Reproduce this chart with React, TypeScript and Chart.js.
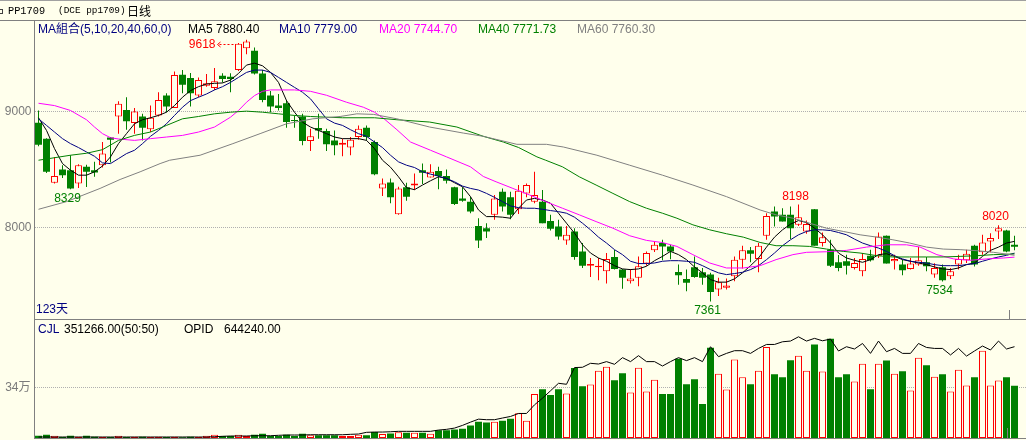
import React, { useEffect, useRef } from "react";
import { Chart, registerables } from "chart.js";

Chart.register(...registerables);

// ---------- data ----------
const opens = [8902, 8766, 8386, 8500, 8494, 8380, 8523, 8494, 8537, 8775, 8957, 9014, 8900, 8957, 8846, 8966, 9137, 9031, 9317, 9289, 9137, 9223, 9203, 9309, 9300, 9357, 9546, 9523, 9328, 9137, 9051, 9071, 8925, 8957, 8746, 8857, 8831, 8751, 8714, 8689, 8780, 8860, 8737, 8337, 8389, 8114, 8346, 8363, 8494, 8431, 8486, 8443, 8346, 8251, 8223, 8014, 7994, 8109, 8309, 8260, 8157, 8294, 8223, 8223, 8057, 8009, 7889, 7966, 7794, 7671, 7657, 7623, 7746, 7637, 7537, 7566, 7689, 7803, 7866, 7837, 7617, 7557, 7657, 7614, 7594, 7466, 7480, 7580, 7723, 7803, 7729, 7929, 8137, 8109, 8109, 8023, 7966, 8157, 7866, 7809, 7700, 7709, 7651, 7623, 7757, 7757, 7929, 7709, 7680, 7643, 7680, 7700, 7594, 7657, 7580, 7680, 7717, 7843, 7786, 7880, 7966, 7974, 7851];
const highs = [9009, 8770, 8608, 8537, 8623, 8545, 8540, 8566, 8737, 8780, 9088, 9123, 9031, 8980, 9051, 9166, 9157, 9345, 9357, 9331, 9294, 9323, 9374, 9329, 9329, 9590, 9618, 9551, 9357, 9177, 9151, 9100, 8966, 8980, 8851, 8980, 8851, 8837, 8766, 8780, 8880, 8880, 8750, 8423, 8423, 8351, 8386, 8466, 8551, 8546, 8523, 8500, 8351, 8346, 8266, 8080, 8037, 8280, 8337, 8309, 8366, 8380, 8480, 8323, 8109, 8066, 8014, 7994, 7866, 7737, 7737, 7780, 7806, 7643, 7643, 7751, 7794, 7880, 7894, 7851, 7680, 7637, 7751, 7651, 7609, 7566, 7560, 7751, 7843, 7831, 7866, 8123, 8180, 8166, 8180, 8198, 8060, 8160, 7957, 7894, 7763, 7766, 7737, 7780, 7809, 7957, 7932, 7766, 7723, 7737, 7831, 7746, 7691, 7680, 7651, 7766, 7809, 7851, 7937, 7951, 8020, 7980, 7929];
const lows = [8700, 8470, 8380, 8426, 8329, 8340, 8350, 8437, 8517, 8560, 8809, 8843, 8809, 8751, 8823, 8957, 8994, 9030, 9157, 9043, 9123, 9214, 9186, 9251, 9166, 9350, 9494, 9320, 9080, 8994, 9009, 8860, 8860, 8709, 8660, 8766, 8660, 8623, 8614, 8623, 8757, 8751, 8450, 8271, 8209, 8110, 8231, 8323, 8374, 8431, 8329, 8380, 8194, 8223, 8123, 7823, 7909, 8066, 8137, 8071, 8117, 8260, 8209, 8037, 7974, 7894, 7851, 7723, 7651, 7574, 7546, 7517, 7637, 7471, 7517, 7494, 7671, 7789, 7717, 7726, 7506, 7451, 7566, 7506, 7361, 7409, 7466, 7537, 7646, 7700, 7614, 7894, 8009, 8051, 7900, 8014, 7946, 7843, 7837, 7660, 7623, 7594, 7637, 7580, 7706, 7737, 7689, 7637, 7589, 7637, 7671, 7623, 7566, 7534, 7557, 7637, 7694, 7663, 7766, 7786, 7900, 7786, 7803];
const closes = [8713, 8480, 8443, 8451, 8337, 8537, 8480, 8475, 8637, 8757, 9066, 8917, 9000, 8860, 8946, 9100, 9043, 9314, 9231, 9157, 9271, 9243, 9260, 9280, 9280, 9585, 9603, 9328, 9100, 9043, 9031, 8909, 8918, 8746, 8786, 8837, 8717, 8709, 8731, 8757, 8851, 8780, 8460, 8380, 8260, 8337, 8266, 8380, 8471, 8480, 8443, 8403, 8203, 8231, 8137, 7889, 7966, 8251, 8180, 8109, 8317, 8366, 8280, 8037, 7989, 7923, 7937, 7746, 7671, 7686, 7671, 7729, 7643, 7566, 7560, 7666, 7780, 7851, 7837, 7794, 7589, 7523, 7574, 7566, 7443, 7529, 7500, 7723, 7803, 7774, 7843, 8100, 8094, 8051, 7994, 8089, 8031, 7843, 7917, 7671, 7651, 7671, 7694, 7729, 7717, 7923, 7689, 7729, 7631, 7689, 7717, 7666, 7651, 7546, 7623, 7729, 7774, 7680, 7871, 7909, 7994, 7794, 7834];

const ma5 = [8946, 8837, 8680, 8551, 8494, 8451, 8451, 8480, 8530, 8609, 8723, 8809, 8894, 8929, 8946, 8966, 8994, 9051, 9123, 9180, 9214, 9237, 9243, 9246, 9271, 9328, 9400, 9417, 9394, 9337, 9251, 9094, 8994, 8908, 8866, 8837, 8809, 8780, 8766, 8766, 8766, 8751, 8680, 8580, 8520, 8437, 8343, 8326, 8366, 8403, 8437, 8423, 8386, 8351, 8266, 8151, 8094, 8094, 8089, 8080, 8166, 8237, 8251, 8237, 8209, 8123, 8037, 7951, 7851, 7780, 7737, 7709, 7671, 7643, 7637, 7643, 7666, 7714, 7751, 7794, 7766, 7723, 7660, 7609, 7551, 7529, 7529, 7557, 7609, 7671, 7737, 7831, 7917, 7980, 8029, 8060, 8043, 7994, 7937, 7866, 7780, 7737, 7717, 7700, 7723, 7766, 7774, 7751, 7723, 7709, 7694, 7680, 7660, 7643, 7637, 7651, 7680, 7694, 7751, 7803, 7831, 7866, 7880.4];
const ma10 = [8937, 8880, 8823, 8766, 8723, 8689, 8651, 8614, 8557, 8551, 8594, 8637, 8666, 8723, 8786, 8837, 8894, 8966, 9037, 9094, 9123, 9151, 9186, 9214, 9251, 9294, 9337, 9357, 9357, 9337, 9294, 9251, 9208, 9166, 9109, 9023, 8937, 8900, 8880, 8843, 8809, 8786, 8737, 8689, 8623, 8566, 8537, 8517, 8480, 8460, 8443, 8423, 8394, 8357, 8337, 8323, 8294, 8260, 8223, 8186, 8171, 8166, 8166, 8157, 8146, 8137, 8123, 8089, 8037, 7980, 7917, 7866, 7809, 7766, 7709, 7689, 7689, 7694, 7709, 7714, 7714, 7709, 7700, 7671, 7637, 7609, 7594, 7603, 7614, 7637, 7671, 7723, 7780, 7843, 7894, 7937, 7966, 7980, 7980, 7974, 7957, 7937, 7900, 7866, 7843, 7823, 7794, 7757, 7729, 7709, 7700, 7694, 7680, 7671, 7671, 7671, 7680, 7689, 7709, 7729, 7746, 7760, 7779];

const ma20X = [0, 2, 4, 6, 7, 8, 9, 10, 12, 14, 16, 18, 20, 22, 24, 25, 26, 27, 28, 29, 32, 34, 36, 38.5, 40.6, 42, 43.2, 44.8, 46.5, 49, 51, 54, 55.6, 57.2, 59.3, 61.4, 63.4, 65.5, 67.6, 69.7, 71.8, 73.9, 76, 78, 79.8, 81.8, 83.9, 86, 88.1, 90.2, 92.2, 94.3, 96, 98.5, 101, 103.5, 106, 108.5, 110.2, 112.3, 114.4, 116.4, 118.5, 120.6, 122];
const ma20Y = [9071, 9051, 9009, 8929, 8866, 8809, 8774, 8763, 8751, 8766, 8780, 8794, 8823, 8866, 8951, 9009, 9080, 9137, 9174, 9186, 9186, 9174, 9140, 9080, 9037, 8994, 8937, 8843, 8737, 8666, 8609, 8523, 8440, 8394, 8337, 8280, 8223, 8166, 8109, 8051, 7994, 7929, 7889, 7870, 7837, 7766, 7694, 7651, 7651, 7671, 7723, 7766, 7786, 7791, 7803, 7831, 7851, 7851, 7831, 7766, 7729, 7717, 7729, 7737, 7744.7];
const ma40X = [0, 4, 6, 8, 10, 12, 14, 16, 18, 20, 22, 24, 26, 28, 30, 32, 34, 36, 38, 42, 44.8, 48.9, 52.3, 55.6, 58.1, 60, 62.3, 63.4, 65.5, 67.6, 69.7, 71.8, 73.9, 76, 78, 79.8, 81.8, 83.9, 86, 88.1, 90.2, 92.2, 94.3, 96.4, 98.5, 100.6, 102.7, 104.8, 106.8, 108.9, 111, 113.1, 115.2, 117.3, 119.4, 122];
const ma40Y = [8580, 8623, 8640, 8671, 8751, 8794, 8823, 8880, 8937, 8957, 8980, 8994, 9003, 8994, 8980, 8966, 8957, 8951, 8946, 8946, 8929, 8909, 8866, 8786, 8737, 8690, 8609, 8580, 8523, 8437, 8366, 8294, 8223, 8166, 8123, 8080, 8023, 7980, 7946, 7917, 7871, 7843, 7843, 7837, 7814, 7794, 7780, 7757, 7746, 7746, 7746, 7746, 7751, 7757, 7766, 7771.73];
const ma60X = [0, 3.5, 7.7, 10.2, 12.7, 15.2, 16.4, 20.2, 24.3, 27.7, 31, 34.3, 37.7, 39.8, 41.9, 44.8, 48.9, 53.1, 55.6, 59.8, 63.5, 65.6, 69.8, 73.9, 78, 81.8, 86, 90.2, 92.2, 94.3, 96.4, 98.5, 100.6, 102.7, 104.8, 106.8, 108.9, 111, 113.1, 115.2, 117.3, 119.4, 122];
const ma60Y = [8157, 8223, 8337, 8414, 8480, 8551, 8580, 8623, 8723, 8809, 8894, 8937, 8957, 8980, 8975, 8937, 8866, 8814, 8786, 8717, 8717, 8694, 8623, 8537, 8451, 8366, 8266, 8151, 8109, 8080, 8037, 7994, 7966, 7937, 7917, 7894, 7866, 7831, 7814, 7809, 7800, 7786, 7760.3];

const volumes = [15000, 22000, 15000, 7000, 15000, 9000, 15000, 9000, 7000, 7000, 15000, 7000, 9000, 9000, 7000, 9000, 7000, 9000, 5000, 9000, 7000, 15000, 22000, 13000, 13000, 22000, 13000, 22000, 29000, 13000, 13000, 22000, 13000, 29000, 18000, 18000, 18000, 18000, 13000, 13000, 22000, 18000, 40000, 27000, 31000, 38000, 35000, 35000, 35000, 29000, 53000, 53000, 58000, 62000, 84000, 109000, 104000, 109000, 116000, 129000, 167000, 116000, 296000, 329000, 289000, 329000, 300000, 471000, 349000, 360000, 453000, 480000, 389000, 436000, 307000, 473000, 313000, 393000, 296000, 296000, 533000, 362000, 396000, 229000, 607000, 433000, 327000, 529000, 409000, 362000, 453000, 613000, 429000, 409000, 524000, 553000, 453000, 629000, 447000, 669000, 409000, 429000, 380000, 500000, 329000, 500000, 522000, 433000, 449000, 320000, 540000, 489000, 413000, 429000, 313000, 460000, 353000, 409000, 587000, 353000, 387000, 409000, 351266];
const openInterest = [7000, 7000, 7000, 7000, 7000, 7000, 7000, 7000, 7000, 7000, 7000, 7000, 7000, 7000, 7000, 7000, 7000, 7000, 7000, 7000, 7000, 7000, 9000, 12000, 14000, 14000, 14000, 16000, 16000, 16000, 19000, 21000, 21000, 21000, 23000, 23000, 23000, 23000, 23000, 26000, 28000, 40000, 42000, 42000, 44000, 47000, 47000, 47000, 47000, 47000, 56000, 61000, 70000, 89000, 112000, 133000, 129000, 129000, 141000, 152000, 173000, 173000, 234000, 281000, 333000, 386000, 379000, 497000, 499000, 527000, 522000, 539000, 520000, 567000, 539000, 581000, 539000, 539000, 508000, 539000, 567000, 546000, 567000, 539000, 644000, 574000, 597000, 616000, 616000, 597000, 632000, 660000, 660000, 679000, 684000, 714000, 684000, 703000, 686000, 698000, 614000, 644000, 628000, 667000, 597000, 684000, 609000, 632000, 597000, 597000, 667000, 639000, 632000, 632000, 586000, 632000, 578000, 614000, 649000, 621000, 684000, 628000, 644240];

const priceTicks = [9000, 8000];
const volumeTicks = [340000];
const peakIndex = 26;
const highMarks = [95, 120];
const lowMarks = [4, 84, 113];

// ---------- style ----------
const BG = "#FFFFEC";
const RED = "#FF0000";
const GREEN = "#008000";
const NAVY = "#000080";
const GRAY = "#808080";
const FONT = '"Liberation Sans", Arial, "Noto Sans CJK SC", sans-serif';
const MONO = '"Liberation Mono", "DejaVu Sans Mono", monospace';

// price axis range: 116 px per 1000, 9000 at row 111 of the page, plot 299 px tall
const PRICE_MAX = 9000 + 91.5 / 0.116;
const PRICE_MIN = PRICE_MAX - 299 / 0.116;

const N = closes.length;
const isUp = (i: number) => closes[i] >= opens[i];
const X_MIN = -0.5;
const X_MAX = -0.5 + (1026 - 34.5) / 8;

const xScale: any = { type: "linear", min: X_MIN, max: X_MAX, display: false, offset: false };

const fitAxis = (scale: any) => {
  scale.width = 34.5;
  scale.paddingTop = 0;
  scale.paddingBottom = 0;
  scale.paddingLeft = 0;
  scale.paddingRight = 0;
};

const extremaPlugin = {
  id: "extrema",
  afterDatasetsDraw(chart: any) {
    const { ctx } = chart;
    const xs = chart.scales.x;
    const ys = chart.scales.y;
    ctx.save();
    ctx.font = "12px " + FONT;
    ctx.textBaseline = "middle";
    const px = xs.getPixelForValue(peakIndex);
    const py = Math.round(ys.getPixelForValue(highs[peakIndex])) + 4.5;
    ctx.fillStyle = RED;
    ctx.strokeStyle = RED;
    ctx.lineWidth = 1;
    ctx.textAlign = "right";
    ctx.fillText(String(highs[peakIndex]), px - 31, py);
    ctx.setLineDash([2, 2]);
    ctx.beginPath();
    ctx.moveTo(px - 27, py);
    ctx.lineTo(px - 11, py);
    ctx.stroke();
    ctx.setLineDash([]);
    ctx.beginPath();
    ctx.moveTo(px - 26, py - 2.5);
    ctx.lineTo(px - 29, py);
    ctx.lineTo(px - 26, py + 2.5);
    ctx.stroke();
    ctx.textAlign = "center";
    for (const i of highMarks) {
      const x = xs.getPixelForValue(i) - 3;
      const y = ys.getPixelForValue(highs[i]) - 8;
      ctx.fillStyle = RED;
      ctx.fillText(String(highs[i]), x, y);
    }
    for (const i of lowMarks) {
      const x = xs.getPixelForValue(i) - 3;
      const y = ys.getPixelForValue(lows[i]) + 9;
      ctx.fillStyle = GREEN;
      ctx.fillText(String(lows[i]), x, y);
    }
    ctx.restore();
  },
};

function lineDs(points: { x: number; y: number }[], color: string) {
  return {
    type: "line",
    data: points,
    borderColor: color,
    borderWidth: 1,
    pointRadius: 0,
    tension: 0,
    fill: false,
    order: 1,
  };
}

const pairs = (xs: number[], ys: number[]) => xs.map((x, k) => ({ x, y: ys[k] }));

export default function App() {
  const priceRef = useRef<HTMLCanvasElement>(null);
  const volRef = useRef<HTMLCanvasElement>(null);

  useEffect(() => {
    document.body.style.margin = "0";
    const idx = closes.map((_, i) => i);

    const priceChart = new Chart(priceRef.current as HTMLCanvasElement, {
      type: "bar",
      data: {
        datasets: [
          {
            type: "bar",
            data: idx.map((i) => ({ x: i, y: [lows[i], highs[i]] })),
            backgroundColor: idx.map((i) => (isUp(i) ? RED : GREEN)),
            barThickness: 1,
            grouped: false,
            inflateAmount: 0,
            borderWidth: 0,
            order: 3,
          },
          {
            type: "bar",
            data: idx.map((i) => ({ x: i, y: [opens[i], closes[i]] })),
            backgroundColor: idx.map((i) => (isUp(i) ? BG : GREEN)),
            borderColor: idx.map((i) => (isUp(i) ? RED : GREEN)),
            borderWidth: idx.map((i) => (isUp(i) ? 1 : 0)),
            borderSkipped: false,
            barThickness: 7,
            minBarLength: 1,
            grouped: false,
            inflateAmount: 0,
            order: 2,
          },
          lineDs(pairs(ma60X, ma60Y), GRAY),
          lineDs(pairs(ma40X, ma40Y), GREEN),
          lineDs(pairs(ma20X, ma20Y), "#FF00FF"),
          lineDs(idx.map((i) => ({ x: i, y: ma10[i] })), NAVY),
          lineDs(idx.map((i) => ({ x: i, y: ma5[i] })), "#000000"),
        ] as any,
      },
      options: {
        animation: false,
        responsive: false,
        devicePixelRatio: 1,
        events: [],
        layout: { padding: 0 },
        plugins: { legend: { display: false }, tooltip: { enabled: false } },
        scales: {
          x: xScale,
          y: {
            type: "linear",
            position: "left",
            min: PRICE_MIN,
            max: PRICE_MAX,
            afterBuildTicks: (s: any) => {
              s.ticks = priceTicks.map((v) => ({ value: v }));
            },
            afterFit: fitAxis,
            ticks: {
              color: "#7A7A7A",
              padding: 3,
              font: { family: FONT, size: 12 },
              callback: (v: any) => String(v),
            },
            grid: { color: "#B0B0B0", drawTicks: false, lineWidth: 1 },
            border: { display: false, dash: [1, 1] },
          },
        } as any,
      } as any,
      plugins: [extremaPlugin],
    });

    const volChart = new Chart(volRef.current as HTMLCanvasElement, {
      type: "bar",
      data: {
        datasets: [
          {
            type: "bar",
            data: idx.map((i) => ({ x: i, y: volumes[i] })),
            backgroundColor: idx.map((i) => (isUp(i) ? BG : GREEN)),
            borderColor: idx.map((i) => (isUp(i) ? RED : GREEN)),
            borderWidth: idx.map((i) => (isUp(i) ? 1 : 0)),
            borderSkipped: false,
            barThickness: 7,
            grouped: false,
            inflateAmount: 0,
            yAxisID: "y",
            order: 2,
          },
          {
            type: "line",
            data: idx.map((i) => ({ x: i, y: openInterest[i] })),
            borderColor: "#000000",
            borderWidth: 1,
            pointRadius: 0,
            tension: 0,
            yAxisID: "y2",
            order: 1,
          },
        ] as any,
      },
      options: {
        animation: false,
        responsive: false,
        devicePixelRatio: 1,
        events: [],
        layout: { padding: { top: 0, bottom: 2, left: 0, right: 0 } },
        plugins: { legend: { display: false }, tooltip: { enabled: false } },
        scales: {
          x: xScale,
          y: {
            type: "linear",
            position: "left",
            min: 0,
            max: 794450,
            afterBuildTicks: (s: any) => {
              s.ticks = volumeTicks.map((v) => ({ value: v }));
            },
            afterFit: fitAxis,
            ticks: {
              color: "#7A7A7A",
              padding: 4,
              font: { family: FONT, size: 12 },
              callback: (v: any) => Math.round(v / 10000) + "万",
            },
            grid: { color: "#B0B0B0", drawTicks: false, lineWidth: 1 },
            border: { display: false, dash: [1, 1] },
          },
          y2: { type: "linear", display: false, min: 0, max: 832600 },
        } as any,
      } as any,
    });

    return () => {
      priceChart.destroy();
      volChart.destroy();
    };
  }, []);

  const txt = (left: number, centerY: number, color: string, s: string, extra: any = {}) => (
    <div
      style={{
        position: "absolute",
        left,
        top: centerY - 7,
        lineHeight: "14px",
        height: 14,
        color,
        fontFamily: FONT,
        fontSize: 12,
        whiteSpace: "pre",
        ...extra,
      }}
    >
      {s}
    </div>
  );
  const line = (left: number, top: number, width: number, height: number, color = GRAY) => (
    <div style={{ position: "absolute", left, top, width, height, background: color }} />
  );
  const last = (a: number[]) => a[a.length - 1];

  return (
    <div
      style={{
        position: "absolute",
        left: 0,
        top: 0,
        width: 1026,
        height: 440,
        background: BG,
        overflow: "hidden",
      }}
    >
      <canvas
        ref={priceRef}
        width={1026}
        height={299}
        style={{ position: "absolute", left: 0, top: 20, width: 1026, height: 299 }}
      />
      <canvas
        ref={volRef}
        width={1026}
        height={120}
        style={{ position: "absolute", left: 0, top: 320, width: 1026, height: 120 }}
      />
      {line(0, 0, 1026, 1, "#A0A0A0")}
      {line(0, 20, 1026, 1)}
      {line(34, 20, 1, 419)}
      {line(34, 319, 992, 1)}
      {line(34, 438, 992, 1)}
      {line(1009, 310, 1, 9)}
      {line(1007, 428, 1, 10)}
      <div
        style={{
          position: "absolute",
          left: -2,
          top: 9,
          width: 3,
          height: 3,
          border: "1px solid #404040",
        }}
      />
      {txt(8, 11, "#000000", "PP1709", { fontFamily: MONO, fontSize: 10.3 })}
      {txt(58, 11, "#000000", "(DCE pp1709)", { fontFamily: MONO, fontSize: 9.4 })}
      {txt(127, 11, "#000000", "日线", { fontFamily: '"Noto Sans CJK SC", sans-serif', fontSize: 12 })}
      {txt(38, 29, NAVY, "MA組合(5,10,20,40,60,0)")}
      {txt(188, 29, "#000000", "MA5 " + last(ma5).toFixed(2))}
      {txt(279, 29, NAVY, "MA10 " + last(ma10).toFixed(2))}
      {txt(379, 29, "#FF00FF", "MA20 " + last(ma20Y).toFixed(2))}
      {txt(478, 29, GREEN, "MA40 " + last(ma40Y).toFixed(2))}
      {txt(577, 29, GRAY, "MA60 " + last(ma60Y).toFixed(2))}
      {txt(36, 309, NAVY, N + "天")}
      {txt(38, 329, NAVY, "CJL")}
      {txt(64, 329, "#000000", last(volumes).toFixed(2) + "(50:50)")}
      {txt(184, 329, "#000000", "OPID")}
      {txt(224, 329, "#000000", last(openInterest).toFixed(2))}
    </div>
  );
}
